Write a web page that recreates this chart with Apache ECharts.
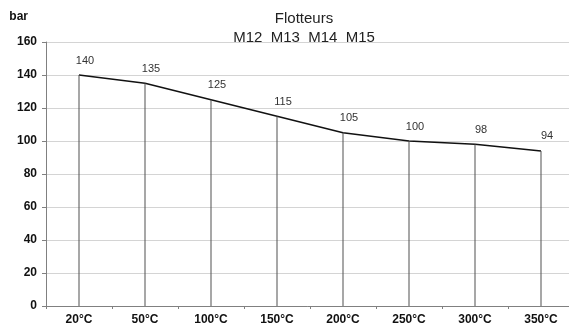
<!DOCTYPE html>
<html>
<head>
<meta charset="utf-8">
<script src="https://cdn.jsdelivr.net/npm/echarts@6/dist/echarts.min.js"></script>
<style>
  html, body { margin: 0; padding: 0; background: #fff; }
  #chart { width: 569px; height: 327px; }
</style>
</head>
<body>
<div id="chart"></div>
<script>
var categories = ["20°C", "50°C", "100°C", "150°C", "200°C", "250°C", "300°C", "350°C"];
var pressures = [140, 135, 125, 115, 105, 100, 98, 94];
var yTicks = { min: 0, max: 160, interval: 20 };

var myChart = echarts.init(document.getElementById("chart"));
myChart.setOption({
  animation: false,
  textStyle: { fontFamily: "Liberation Sans, Arial, sans-serif" },
  title: {
    text: "Flotteurs\nM12  M13  M14  M15",
    left: 299,
    top: 4,
    textAlign: "center",
    textStyle: { fontSize: 15, fontWeight: "normal", color: "#222", lineHeight: 19 }
  },
  grid: { left: 46, top: 42, width: 528, height: 264, outerBoundsMode: "none", containLabel: false },
  xAxis: {
    type: "category",
    data: categories,
    boundaryGap: true,
    axisLine: { lineStyle: { color: "#808080", width: 1 } },
    axisTick: { show: true, length: 3, lineStyle: { color: "#808080" } },
    axisLabel: { color: "#111", fontWeight: "bold", fontSize: 12, margin: 8 },
    splitLine: { show: false }
  },
  yAxis: {
    type: "value",
    min: yTicks.min,
    max: yTicks.max,
    interval: yTicks.interval,
    name: "bar",
    nameLocation: "end",
    nameGap: 19,
    nameTextStyle: { color: "#111", fontWeight: "bold", fontSize: 12, align: "right", padding: [0, 18, 0, 0] },
    axisLine: { show: true, lineStyle: { color: "#808080", width: 1 } },
    axisTick: { show: true, length: 4, lineStyle: { color: "#808080" } },
    axisLabel: { color: "#111", fontWeight: "bold", fontSize: 12, margin: 9 },
    splitLine: { show: true, lineStyle: { color: "#d4d4d4", width: 1 } }
  },
  series: [
    {
      // vertical drop lines, carrying the value labels
      type: "bar",
      data: pressures,
      barWidth: 1,
      itemStyle: { color: "#505050" },
      label: { show: true, position: "top", distance: 9, offset: [6, 0], color: "#333", fontSize: 11 },
      z: 3
    },
    {
      type: "line",
      data: pressures,
      symbol: "none",
      lineStyle: { color: "#111", width: 1.5 },
      z: 2
    }
  ]
});
</script>
</body>
</html>
